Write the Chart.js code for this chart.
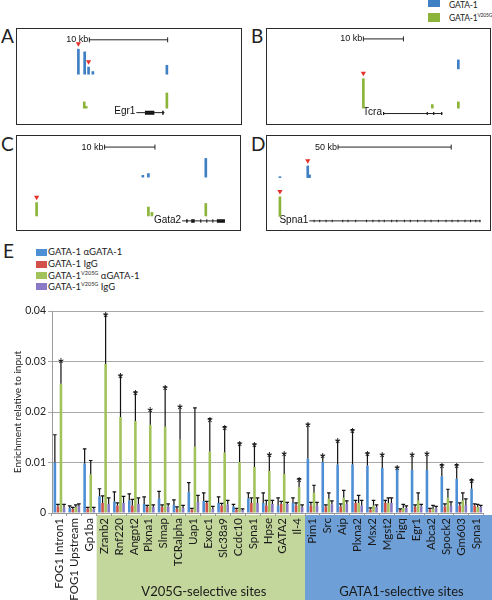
<!DOCTYPE html>
<html>
<head>
<meta charset="utf-8">
<script src="https://cdn.jsdelivr.net/npm/chart.js@4.4.1/dist/chart.umd.min.js"></script>
<style>
body { margin: 0; background: #fff; font-family: Lato, 'Open Sans', sans-serif; color: #222; }
#page { position: relative; width: 492px; height: 600px; overflow: hidden; }
.panel { position: absolute; border: 1.5px solid #2b2b2b; box-sizing: border-box; }
.panel canvas { position: absolute; left: 0; top: 0; }
.lab { position: absolute; font-size: 19px; line-height: 19px; }
.key { position: absolute; font-size: 9.5px; line-height: 12px; white-space: nowrap; }
.sw { position: absolute; }
sup { font-size: 5.5px; vertical-align: 4px; line-height: 0; }
#chartE { position: absolute; left: 0; top: 300px; }
</style>
</head>
<body>
<div id="page">
  <div class="sw" style="left:428px;top:-2px;width:12px;height:9px;background:#3f7fc4"></div>
  <div class="key" style="left:449px;top:-1px;font-size:8.5px;letter-spacing:-0.2px">GATA-1</div>
  <div class="sw" style="left:428px;top:13px;width:12px;height:9px;background:#8cb43a"></div>
  <div class="key" style="left:449px;top:12px;font-size:8.5px;letter-spacing:-0.2px">GATA-1<sup style="font-size:5px">V205G</sup></div>

  <div class="lab" style="left:1px;top:26px">A</div>
  <div class="lab" style="left:251px;top:26px">B</div>
  <div class="lab" style="left:1px;top:134px">C</div>
  <div class="lab" style="left:251px;top:134px">D</div>
  <div class="panel" style="left:16px;top:28px;width:226px;height:97px"><canvas id="trackA" width="223" height="94"></canvas></div>
  <div class="panel" style="left:266px;top:28px;width:225px;height:97px"><canvas id="trackB" width="222" height="94"></canvas></div>
  <div class="panel" style="left:16px;top:135px;width:225px;height:96px"><canvas id="trackC" width="222" height="93"></canvas></div>
  <div class="panel" style="left:266px;top:135px;width:225px;height:96px"><canvas id="trackD" width="222" height="93"></canvas></div>

  <div class="lab" style="left:3px;top:241px">E</div>
  <div class="sw" style="left:36px;top:249px;width:11px;height:7px;background:#4d8fd4"></div>
  <div class="key" style="left:48px;top:246px">GATA-1 αGATA-1</div>
  <div class="sw" style="left:36px;top:261px;width:11px;height:7px;background:#d2504a"></div>
  <div class="key" style="left:48px;top:258px">GATA-1 IgG</div>
  <div class="sw" style="left:36px;top:272px;width:11px;height:7px;background:#a2c35c"></div>
  <div class="key" style="left:48px;top:270px">GATA-1<sup>V205G</sup> αGATA-1</div>
  <div class="sw" style="left:36px;top:283px;width:11px;height:7px;background:#8a79c6"></div>
  <div class="key" style="left:48px;top:281px">GATA-1<sup>V205G</sup> IgG</div>

  <canvas id="chartE" width="492" height="300"></canvas>
</div>
<script>
'use strict';

// ---- panel E data (enrichment x 1000) ----
const categories = ['FOG1 Intron1', 'FOG1 Upstream', 'Gp1ba', 'Zranb2', 'Rnf220', 'Angpt2', 'Plxna1', 'Slmap',
    'TCRalpha', 'Uap1', 'Exoc1', 'Slc38a9', 'Ccdc10', 'Spna1', 'Hpse', 'GATA2', 'Il-4',
    'Pim1', 'Src', 'Aip', 'Plxna2', 'Msx2', 'Mgst2', 'Pigq', 'Egr1', 'Abca2', 'Spock2', 'Gm603', 'Spna1'];
const gata1Anti = [10.0, 1.0, 9.8, 3.3, 2.3, 2.5, 1.8, 2.8, 1.6, 4.2, 2.4, 2.0, 1.3, 2.9, 2.0, 1.5, 2.0,
    10.8, 10.1, 9.6, 9.6, 9.4, 8.9, 8.8, 8.5, 8.5, 7.3, 6.8, 4.8];
const gata1AntiErr = [5.5, 0.4, 2.9, 1.5, 1.9, 1.3, 1.4, 1.5, 1.0, 1.8, 1.6, 1.2, 0.4, 1.1, 2.0, 1.5, 1.0,
    6.8, 1.3, 4.8, 6.9, 2.5, 2.7, 0.3, 3.1, 3.3, 2.3, 2.8, 1.8];
const gata1IgG = [1.3, 0.8, 0.9, 2.0, 1.5, 1.5, 1.2, 1.2, 0.8, 0.7, 2.0, 1.5, 0.7, 2.0, 1.5, 1.8, 1.5,
    1.5, 1.3, 1.3, 2.0, 0.7, 2.0, 0.6, 1.2, 0.7, 1.3, 1.5, 1.5];
const gata1IgGErr = [0.4, 0.3, 0.2, 1.4, 0.5, 1.2, 0.3, 0.4, 0.4, 0.2, 0.3, 0.4, 0.2, 1.0, 1.0, 0.5, 0.5,
    0.6, 0.3, 0.5, 0.5, 0.3, 0.5, 0.2, 0.4, 0.2, 0.5, 0.5, 0.3];
const v205gAnti = [25.6, 1.2, 7.6, 29.5, 19.0, 18.2, 17.5, 17.1, 14.5, 13.1, 12.2, 12.0, 10.1, 9.1, 8.3, 7.7, 5.1,
    4.0, 2.8, 3.0, 2.0, 1.5, 2.0, 1.0, 2.5, 0.8, 3.0, 2.5, 1.2];
const v205gAntiErr = [4.6, 0.4, 2.8, 9.9, 8.3, 5.8, 3.0, 7.9, 6.6, 7.7, 6.5, 5.1, 3.8, 4.6, 3.3, 4.1, 1.7,
    1.5, 1.2, 1.5, 1.5, 1.0, 1.0, 0.7, 1.5, 0.7, 1.7, 1.5, 0.5];
const v205gIgG = [1.1, 1.4, 0.8, 1.8, 2.0, 1.8, 1.2, 1.3, 1.0, 2.2, 0.8, 1.7, 0.6, 2.0, 1.8, 1.8, 1.2,
    1.5, 1.7, 1.8, 1.5, 1.2, 2.0, 1.0, 1.3, 0.9, 1.4, 1.6, 1.2];
const v205gIgGErr = [0.6, 0.4, 0.3, 1.2, 1.3, 1.2, 0.4, 0.5, 0.5, 1.3, 0.5, 0.8, 0.2, 1.0, 0.7, 0.3, 0.4,
    0.6, 0.7, 0.6, 1.0, 0.4, 1.0, 0.4, 0.4, 0.4, 0.8, 1.2, 0.3];
// which series carries the significance star ('g' = V205G αGATA-1, 'b' = GATA-1 αGATA-1)
const sigSeries = ['g', null, null, 'g', 'g', 'g', 'g', 'g', 'g', null, 'g', 'g', 'g', 'g', 'g', 'g', 'g',
    'b', 'b', 'b', 'b', 'b', 'b', 'b', 'b', 'b', 'b', 'b', 'b'];
const siteGroups = [
    { 'label': 'V205G-selective sites', 'from': 'Zranb2', 'to': 'Il-4', 'color': '#c3d69b' },
    { 'label': 'GATA1-selective sites', 'from': 'Pim1', 'to': 28, 'color': '#6e9fd6' }
];

// ---- panels A-D: ChIP-seq peaks (position kb, height) ----
const egr1BluePos = [7.2, 8.0, 8.5, 9.05, 18.5];
const egr1BlueH = [28, 25, 8, 3, 10];
const egr1GreenPos = [7.95, 8.2, 18.5];
const egr1GreenH = [7, 2, 17];
const egr1Exons = [[15.7, 16.9], [17.9, 18.1]];

const tcraBluePos = [46.5];
const tcraBlueH = [10];
const tcraGreenPos = [22.8, 40.0, 46.5];
const tcraGreenH = [33, 4, 7];
const tcraExons = [[27.7, 28.0], [38.6, 38.9], [40.2, 40.5], [42.2, 42.5]];

const gata2BluePos = [24.0, 25.1, 36.5];
const gata2BlueH = [2, 4, 21];
const gata2GreenPos = [2.9, 25.1, 25.8, 36.5];
const gata2GreenH = [15, 10, 4, 14];
const gata2Exons = [[32.6, 32.9], [33.6, 34.3], [35.4, 35.6], [36.6, 36.8], [37.8, 38.0], [38.7, 40.3]];

const spna1BluePos = [3.5, 15.8, 16.6];
const spna1BlueH = [1, 13, 3];
const spna1GreenPos = [3.5];
const spna1GreenH = [22];
const spna1Exons = [[18.4, 18.8], [20.9, 21.3], [23.7, 24.1], [26.4, 26.8], [28.3, 28.7], [31.1, 31.5],
    [33.4, 33.8], [36.8, 37.2], [38.9, 39.3], [41.6, 42.0], [44.4, 44.8], [47.1, 47.5], [49.4, 49.8],
    [52.7, 53.1], [55.0, 55.4], [58.3, 58.7], [60.9, 61.3], [64.2, 64.6], [67.4, 67.8], [70.1, 70.5],
    [73.3, 73.7], [76.7, 77.1], [79.4, 79.8], [82.0, 82.4], [85.1, 85.5], [87.5, 87.9], [89.9, 90.3], [91.7, 92.1]];

const BLUE = '#3f7fc4';
const GREEN = '#8cb43a';

// scale-bar and gene labels, drawn under the marks
const trackText = {
    'id': 'trackText',
    beforeDatasetsDraw(chart, args, opts) {
        const ctx = chart.ctx;
        const x = chart.scales.x;
        const y = chart.scales.y;
        ctx.save();
        ctx.fillStyle = '#111';
        ctx.font = '9px "Liberation Sans", Arial, sans-serif';
        ctx.textAlign = 'right';
        ctx.textBaseline = 'middle';
        ctx.fillText(opts.scaleLabel, x.getPixelForValue(opts.scaleStart) - 1, y.getPixelForValue(opts.scaleY));
        ctx.font = '10px "Liberation Sans", Arial, sans-serif';
        ctx.fillText(opts.gene, x.getPixelForValue(opts.geneStart) - 1, y.getPixelForValue(opts.geneY) - 1);
        ctx.restore();
    }
};

function drawTrack(id, t) {
    const peaks = (pos, h, base) => pos.map((p, i) => ({ 'x': p, 'y': [base, base + h[i]] }));
    const arrows = t.arrows.map(([track, i]) => {
        const src = track === 'blue' ? [t.bluePos, t.blueH, t.blueBase] : [t.greenPos, t.greenH, t.greenBase];
        return { 'x': src[0][i], 'y': src[2] + src[1][i] + 6 };
    });
    const exons = [];
    t.exons.forEach(([a, b]) => {
        exons.push({ 'x': a, 'y': t.geneY }, { 'x': b, 'y': t.geneY }, { 'x': b, 'y': null });
    });
    new Chart(document.getElementById(id), {
        'type': 'bar',
        'data': {
            'datasets': [
                { 'data': peaks(t.bluePos, t.blueH, t.blueBase), 'backgroundColor': BLUE, 'barThickness': 2, 'grouped': false, 'order': 1 },
                { 'data': peaks(t.greenPos, t.greenH, t.greenBase), 'backgroundColor': GREEN, 'barThickness': 2, 'grouped': false, 'order': 1 },
                {
                    'type': 'scatter', 'data': arrows, 'pointStyle': 'triangle', 'rotation': 180, 'order': 0,
                    'radius': 3, 'backgroundColor': '#e3302c', 'borderWidth': 0
                },
                {
                    'type': 'line', 'data': [{ 'x': t.scaleStart, 'y': t.scaleY }, { 'x': t.scaleStart + t.scaleLen, 'y': t.scaleY }],
                    'borderColor': '#222', 'borderWidth': 1, 'pointStyle': 'line', 'rotation': 90, 'radius': 2.5,
                    'pointBorderColor': '#222', 'pointBorderWidth': 1, 'order': 2
                },
                {
                    'type': 'line', 'data': [{ 'x': t.geneStart, 'y': t.geneY }, { 'x': t.geneEnd, 'y': t.geneY }],
                    'borderColor': '#222', 'borderWidth': 1, 'pointRadius': 0, 'order': 2
                },
                {
                    'type': 'line', 'data': exons, 'borderColor': '#111', 'borderWidth': t.exonWidth, 'borderCapStyle': 'butt',
                    'pointRadius': 0, 'spanGaps': false, 'order': 2
                }
            ]
        },
        'options': {
            'responsive': false,
            'animation': false,
            'devicePixelRatio': 1,
            'layout': { 'padding': 0 },
            'plugins': {
                'legend': { 'display': false },
                'tooltip': { 'enabled': false },
                'trackText': {
                    'scaleLabel': t.scaleLabel, 'scaleStart': t.scaleStart, 'scaleY': t.scaleY,
                    'gene': t.gene, 'geneStart': t.geneStart, 'geneY': t.geneY
                }
            },
            'scales': {
                'x': { 'type': 'linear', 'min': 0, 'max': t.span, 'offset': false, 'display': false },
                'y': { 'min': 0, 'max': t.height, 'display': false }
            }
        },
        'plugins': [trackText]
    });
}

drawTrack('trackA', {
    'span': 27.2, 'height': 94, 'blueBase': 49, 'greenBase': 11,
    'bluePos': egr1BluePos, 'blueH': egr1BlueH, 'greenPos': egr1GreenPos, 'greenH': egr1GreenH,
    'arrows': [['blue', 0], ['blue', 2]],
    'scaleLabel': '10 kb', 'scaleStart': 8.6, 'scaleLen': 10, 'scaleY': 87.5,
    'gene': 'Egr1', 'geneStart': 14.6, 'geneEnd': 18.2, 'geneY': 6, 'exons': egr1Exons, 'exonWidth': 4
});
drawTrack('trackB', {
    'span': 52.9, 'height': 94, 'blueBase': 55, 'greenBase': 11,
    'bluePos': tcraBluePos, 'blueH': tcraBlueH, 'greenPos': tcraGreenPos, 'greenH': tcraGreenH,
    'arrows': [['green', 0]],
    'scaleLabel': '10 kb', 'scaleStart': 22.8, 'scaleLen': 10, 'scaleY': 88.5,
    'gene': 'Tcra', 'geneStart': 27.7, 'geneEnd': 42.5, 'geneY': 5, 'exons': tcraExons, 'exonWidth': 3
});
drawTrack('trackC', {
    'span': 42.1, 'height': 93, 'blueBase': 52.5, 'greenBase': 9,
    'bluePos': gata2BluePos, 'blueH': gata2BlueH, 'greenPos': gata2GreenPos, 'greenH': gata2GreenH,
    'arrows': [['green', 0]],
    'scaleLabel': '10 kb', 'scaleStart': 16.4, 'scaleLen': 10, 'scaleY': 86.2,
    'gene': 'Gata2', 'geneStart': 31.8, 'geneEnd': 40.3, 'geneY': 3.5, 'exons': gata2Exons, 'exonWidth': 3.5
});
drawTrack('trackD', {
    'span': 93.7, 'height': 93, 'blueBase': 52, 'greenBase': 8.5,
    'bluePos': spna1BluePos, 'blueH': spna1BlueH, 'greenPos': spna1GreenPos, 'greenH': spna1GreenH,
    'arrows': [['blue', 1], ['green', 0]],
    'scaleLabel': '50 kb', 'scaleStart': 29.2, 'scaleLen': 50, 'scaleY': 86.2,
    'gene': 'Spna1', 'geneStart': 16.5, 'geneEnd': 92.2, 'geneY': 3.5, 'exons': spna1Exons, 'exonWidth': 2.5
});

// ---- panel E ----
const groupBoxes = {
    'id': 'groupBoxes',
    beforeDraw(chart) {
        const ctx = chart.ctx;
        const x = chart.scales.x;
        const half = (x.getPixelForValue(1) - x.getPixelForValue(0)) / 2;
        ctx.save();
        siteGroups.forEach((g) => {
            const from = typeof g.from === 'number' ? g.from : categories.indexOf(g.from);
            const to = typeof g.to === 'number' ? g.to : categories.indexOf(g.to);
            const left = x.getPixelForValue(from) - half;
            const right = to === categories.length - 1 ? chart.width : x.getPixelForValue(to) + half;
            ctx.fillStyle = g.color;
            ctx.fillRect(left, chart.chartArea.bottom + 2, right - left, chart.height - chart.chartArea.bottom);
            g.center = (left + right) / 2;
        });
        ctx.restore();
    },
    afterDraw(chart) {
        const ctx = chart.ctx;
        ctx.save();
        ctx.fillStyle = '#1a1a1a';
        ctx.font = '13px Lato, sans-serif';
        ctx.textAlign = 'center';
        ctx.textBaseline = 'alphabetic';
        siteGroups.forEach((g) => ctx.fillText(g.label, g.center + 3, chart.height - 4));
        ctx.restore();
    }
};

const errorBars = {
    'id': 'errorBars',
    afterDatasetsDraw(chart) {
        const ctx = chart.ctx;
        const y = chart.scales.y;
        ctx.save();
        ctx.strokeStyle = '#111';
        ctx.lineWidth = 1.2;
        const tops = [];
        chart.data.datasets.forEach((ds, di) => {
            tops[di] = [];
            chart.getDatasetMeta(di).data.forEach((bar, i) => {
                const top = y.getPixelForValue(ds.data[i] + ds.err[i] / 1000);
                tops[di][i] = top;
                ctx.beginPath();
                ctx.moveTo(bar.x, bar.y);
                ctx.lineTo(bar.x, top);
                ctx.moveTo(bar.x - 1.8, top);
                ctx.lineTo(bar.x + 1.8, top);
                ctx.stroke();
            });
        });
        ctx.fillStyle = '#222';
        ctx.font = '15px "Liberation Sans", Arial, sans-serif';
        ctx.textAlign = 'center';
        ctx.textBaseline = 'alphabetic';
        sigSeries.forEach((s, i) => {
            if (!s) {
                return;
            }
            const di = s === 'g' ? 2 : 0;
            const bar = chart.getDatasetMeta(di).data[i];
            ctx.fillText('*', bar.x, tops[di][i] + 8);
        });
        ctx.restore();
    }
};

new Chart(document.getElementById('chartE'), {
    'type': 'bar',
    'data': {
        'labels': categories,
        'datasets': [
            { 'label': 'GATA-1 αGATA-1', 'data': gata1Anti.map((v) => v / 1000), 'err': gata1AntiErr, 'backgroundColor': '#4d8fd4' },
            { 'label': 'GATA-1 IgG', 'data': gata1IgG.map((v) => v / 1000), 'err': gata1IgGErr, 'backgroundColor': '#d2504a' },
            { 'label': 'GATA-1 V205G αGATA-1', 'data': v205gAnti.map((v) => v / 1000), 'err': v205gAntiErr, 'backgroundColor': '#a2c35c' },
            { 'label': 'GATA-1 V205G IgG', 'data': v205gIgG.map((v) => v / 1000), 'err': v205gIgGErr, 'backgroundColor': '#8a79c6' }
        ]
    },
    'options': {
        'responsive': false,
        'animation': false,
        'devicePixelRatio': 1,
        'layout': { 'padding': { 'top': 11, 'right': 2, 'left': 0, 'bottom': 0 } },
        'datasets': { 'bar': { 'categoryPercentage': 0.82, 'barPercentage': 0.85 } },
        'plugins': { 'legend': { 'display': false }, 'tooltip': { 'enabled': false } },
        'scales': {
            'x': {
                'grid': { 'drawOnChartArea': false, 'offset': true, 'tickLength': 3, 'color': '#999' },
                'border': { 'color': '#999' },
                'ticks': {
                    'autoSkip': false, 'minRotation': 90, 'maxRotation': 90, 'padding': 2,
                    'color': '#1a1a1a', 'font': { 'family': 'Lato', 'size': 11.5 }
                },
                afterFit(scale) { scale.height = 87; }
            },
            'y': {
                'min': 0,
                'max': 0.04,
                'ticks': {
                    'stepSize': 0.01, 'padding': 2, 'color': '#222',
                    'font': { 'family': 'Lato', 'size': 10.5 },
                    'callback': (v) => (v === 0 ? '0' : v.toFixed(2))
                },
                'grid': { 'color': '#a8a8a8', 'tickLength': 4 },
                'border': { 'color': '#999' },
                'title': {
                    'display': true, 'text': 'Enrichment relative to input', 'color': '#222',
                    'font': { 'family': 'Lato', 'size': 10 }, 'padding': { 'top': 12, 'bottom': 0 }
                },
                afterFit(scale) { scale.width = 52; }
            }
        }
    },
    'plugins': [groupBoxes, errorBars]
});
</script>
</body>
</html>
